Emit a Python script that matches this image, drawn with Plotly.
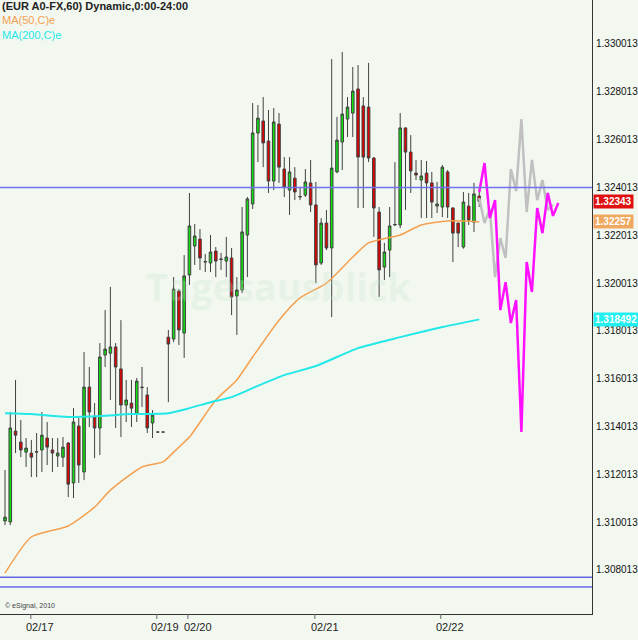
import plotly.graph_objects as go

opens = [1.31006,1.31002,1.31382,1.31336,1.31294,1.31290,1.31294,1.31303,1.31353,1.31303,
1.31278,1.31273,1.31332,1.31165,1.31403,1.31211,1.31566,1.31441,1.31395,1.31700,
1.31708,1.31734,1.31642,1.31491,1.31499,1.31457,1.31566,1.31533,1.31416,1.31378,
1.31378,1.31775,1.31767,1.31968,1.31792,1.32035,1.32156,1.32185,1.32089,1.32085,
1.32135,1.32102,1.32093,1.32106,1.31947,1.31972,1.32202,1.32332,1.32629,1.32679,
1.32595,1.32428,1.32666,1.32478,1.32390,1.32440,1.32361,1.32369,1.32420,1.32328,
1.32085,1.32252,1.32148,1.32466,1.32591,1.32687,1.32712,1.32813,1.32742,1.32737,
1.32524,1.32298,1.32068,1.32139,1.32244,1.32244,1.32650,1.32549,1.32461,1.32432,
1.32461,1.32420,1.32323,1.32319,1.32466,1.32315,1.32252,1.32152,1.32323,1.32256,
1.32365]
highs = [1.31219,1.31462,1.31596,1.31428,1.31353,1.31345,1.31374,1.31462,1.31420,1.31353,
1.31353,1.31357,1.31336,1.31478,1.31437,1.31713,1.31650,1.31499,1.31750,1.31888,
1.31985,1.31750,1.31846,1.31596,1.31596,1.31604,1.31650,1.31566,1.31470,1.31378,
1.31378,1.31805,1.32026,1.31976,1.32118,1.32378,1.32248,1.32227,1.32123,1.32202,
1.32152,1.32127,1.32194,1.32148,1.32026,1.32319,1.32361,1.32754,1.32746,1.32779,
1.32725,1.32733,1.32712,1.32528,1.32528,1.32486,1.32399,1.32478,1.32516,1.32424,
1.32273,1.32307,1.32938,1.32696,1.32968,1.32779,1.32905,1.32913,1.32779,1.32922,
1.32528,1.32319,1.32169,1.32319,1.32507,1.32712,1.32652,1.32620,1.32516,1.32516,
1.32512,1.32466,1.32424,1.32495,1.32474,1.32319,1.32254,1.32382,1.32378,1.32420,
1.32382]
lows = [1.30989,1.30989,1.31290,1.31273,1.31232,1.31190,1.31190,1.31211,1.31240,1.31211,
1.31232,1.31232,1.31106,1.31102,1.31165,1.31177,1.31399,1.31269,1.31282,1.31650,
1.31512,1.31395,1.31357,1.31420,1.31399,1.31420,1.31483,1.31374,1.31353,1.31378,
1.31378,1.31503,1.31754,1.31742,1.31688,1.31993,1.32077,1.32056,1.32047,1.32047,
1.32026,1.32056,1.32026,1.31867,1.31784,1.31959,1.32026,1.32311,1.32507,1.32486,
1.32378,1.32390,1.32420,1.32361,1.32286,1.32348,1.32348,1.32361,1.32298,1.32001,
1.32077,1.32139,1.31859,1.32461,1.32474,1.32612,1.32612,1.32315,1.32315,1.32507,
1.32194,1.31943,1.32014,1.32026,1.32240,1.32231,1.32307,1.32378,1.32432,1.32273,
1.32273,1.32273,1.32294,1.32277,1.32273,1.32089,1.32152,1.32145,1.32244,1.32215,
1.32319]
closes = [1.31022,1.31395,1.31365,1.31303,1.31311,1.31273,1.31296,1.31365,1.31315,1.31290,
1.31290,1.31315,1.31160,1.31420,1.31240,1.31566,1.31462,1.31395,1.31692,1.31725,
1.31734,1.31650,1.31491,1.31512,1.31478,1.31591,1.31564,1.31395,1.31449,1.31378,
1.31378,1.31746,1.31976,1.31805,1.32031,1.32240,1.32198,1.32106,1.32091,1.32131,
1.32093,1.32100,1.32110,1.31943,1.31972,1.32215,1.32353,1.32629,1.32691,1.32587,
1.32428,1.32675,1.32486,1.32403,1.32466,1.32382,1.32363,1.32424,1.32328,1.32077,
1.32252,1.32148,1.32482,1.32599,1.32708,1.32737,1.32804,1.32528,1.32528,1.32524,
1.32315,1.32056,1.32131,1.32240,1.32246,1.32650,1.32549,1.32470,1.32453,1.32449,
1.32420,1.32340,1.32332,1.32486,1.32319,1.32210,1.32210,1.32340,1.32265,1.32374,
1.32343]

ma50_idx = [0,5,12,17,20,26,30,32,35,40,44,47,52,56,61,66,69,75,79,84,90]
ma50_val = [1.30788,1.30939,1.30985,1.31064,1.31135,1.31232,1.31253,1.31294,1.31357,1.31512,
1.31596,1.31692,1.31846,1.31939,1.32001,1.32110,1.32169,1.32202,1.32244,1.32261,1.32257]
ma200_idx = [0,5,12,18,24,31,35,39,43,47,53,59,67,75,83,90]
ma200_val = [1.31457,1.31453,1.31441,1.31445,1.31453,1.31457,1.31478,1.31503,1.31524,1.31562,
1.31616,1.31654,1.31729,1.31775,1.31817,1.318492]

fc_idx = list(range(90, 106))
fc_magenta = [1.32382,1.32503,1.32273,1.32348,1.31888,1.32005,1.31834,1.31930,1.31378,1.32089,
1.31964,1.32315,1.32210,1.32378,1.32282,1.32336]
fc_grey = [1.32357,1.32252,1.32311,1.32026,1.32189,1.32106,1.32478,1.32386,1.32687,1.32298,
1.32516,1.32348,1.32432,1.32307,1.32328]

hlines = [1.32401, 1.30771, 1.30730]
ytick_vals = [1.308013,1.310013,1.312013,1.314013,1.316013,1.318013,1.320013,1.322013,1.324013,1.326013,1.328013,1.330013]
date_pos = [6.6, 30.4, 36.6, 60.7, 84.4]
date_lbl = ["02/17", "02/19", "02/20", "02/21", "02/22"]
date_ticks = [4.9, 28.8, 34.7, 58.8, 82.7]

FONT = "Liberation Sans"
fig = go.Figure()
fig.add_trace(go.Candlestick(
    x=list(range(len(opens))), open=opens, high=highs, low=lows, close=closes,
    increasing=dict(line=dict(color="#404040", width=1), fillcolor="#11dd11"),
    decreasing=dict(line=dict(color="#404040", width=1), fillcolor="#e00000"),
    whiskerwidth=0, showlegend=False, hoverinfo="skip"))
fig.add_trace(go.Scatter(x=ma50_idx, y=ma50_val, mode="lines", line=dict(color="#f5a050", width=1.5, shape="spline", smoothing=0.6), showlegend=False))
fig.add_trace(go.Scatter(x=ma200_idx, y=ma200_val, mode="lines", line=dict(color="#22e8e8", width=2, shape="spline", smoothing=0.6), showlegend=False))
fig.add_trace(go.Scatter(x=fc_idx[:len(fc_grey)], y=fc_grey, mode="lines", line=dict(color="#c0c0c0", width=2.5), showlegend=False))
fig.add_trace(go.Scatter(x=fc_idx, y=fc_magenta, mode="lines", line=dict(color="#ff10ff", width=2.5), showlegend=False))

for i, h in enumerate(hlines):
    fig.add_hline(y=h, line=dict(color="#7070f0" if i == 0 else "#2020e0", width=1.5 if i == 0 else 1))

for t in date_ticks:
    fig.add_shape(type="line", xref="x", yref="paper", x0=t, x1=t, y0=0, y1=-0.008, line=dict(color="#666", width=1))
for p, l in zip(date_pos, date_lbl):
    fig.add_annotation(x=p, y=-0.008, xref="x", yref="paper", text=l, showarrow=False, yanchor="top",
                       font=dict(family=FONT, size=11, color="#222"))

def side_label(v, txt, bg, fg):
    fig.add_annotation(x=1.0, xref="paper", y=v, yref="y", text=txt, showarrow=False, xanchor="left",
                       bgcolor=bg, font=dict(family=FONT, size=10, color=fg), borderpad=1, xshift=1)
side_label(1.32343, "<b>1.32343</b>", "#e01010", "white")
side_label(1.32257, "<b>1.32257</b>", "#f0a860", "white")
side_label(1.318492, "<b>1.318492</b>", "#22f0f0", "white")

fig.add_annotation(x=0, y=1, xref="paper", yref="paper", xanchor="left", yanchor="top", showarrow=False, align="left",
    text="<b>(EUR A0-FX,60) Dynamic,0:00-24:00</b><br><span style='color:#f5a050'>MA(50,C)e</span><br><span style='color:#22e8e8'>MA(200,C)e</span>",
    font=dict(family=FONT, size=11, color="#222"), yshift=2)
fig.add_annotation(x=0.005, y=0.003, xref="paper", yref="paper", xanchor="left", yanchor="bottom", showarrow=False,
    text="© eSignal, 2010", font=dict(family=FONT, size=7, color="#444"))
fig.add_annotation(x=0.47, y=0.535, xref="paper", yref="paper", showarrow=False,
    text="<b>Tagesausblick</b>", font=dict(family="Open Sans", size=38, color="rgba(200,225,200,0.25)"))

fig.update_layout(
    width=638, height=640, margin=dict(l=0, r=46, t=0, b=26, autoexpand=False),
    paper_bgcolor="#f2f8f0", plot_bgcolor="#f2f8f0",
    xaxis=dict(range=[-0.95, 111.4], showgrid=False, zeroline=False, showticklabels=False, rangeslider=dict(visible=False),
               showline=True, linecolor="#333", linewidth=1, automargin=False),
    yaxis=dict(range=[1.30617, 1.33185], side="right", showgrid=False, zeroline=False, tickvals=ytick_vals,
               ticktext=[f"{v:.6f}" for v in ytick_vals], ticks="", ticklabelstandoff=1,
               tickfont=dict(family=FONT, size=10, color="#111"), automargin=False,
               showline=True, linecolor="#333", linewidth=1, mirror=False),
)
fig.write_html("out.html", config={"displayModeBar": False},
               post_script="document.body.style.margin='0';document.body.style.background='#f2f8f0';")
